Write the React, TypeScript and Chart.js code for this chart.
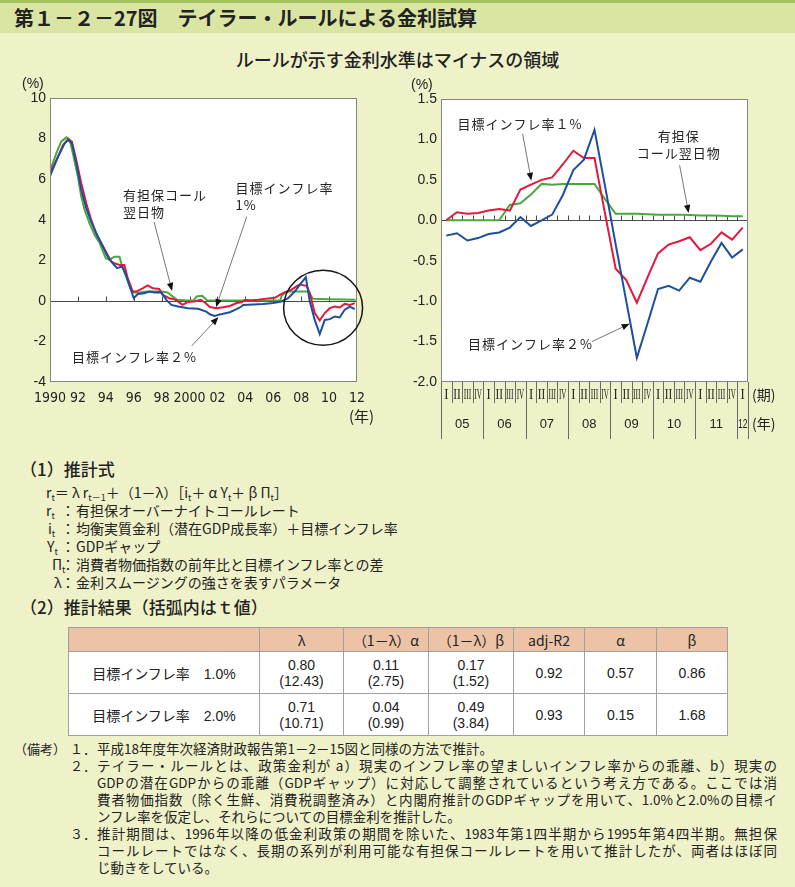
import React, { useEffect, useRef } from 'react';
import { Chart, registerables } from 'chart.js';

Chart.register(...registerables);

const NUM_FONT = "'Liberation Sans Narrow', 'DejaVu Sans Condensed', 'Liberation Sans', Arial, sans-serif";
const SANS_FONT = "'Liberation Sans', Arial, 'Noto Sans CJK JP', sans-serif";
const JP_FONT = "'Noto Sans CJK JP', 'Noto Sans', sans-serif";
const ROMAN_FONT = "'Liberation Serif', 'DejaVu Serif', serif";

const COLOR_CALL = '#48a83a';
const COLOR_T1 = '#e2183f';
const COLOR_T2 = '#1d4f9f';
const TEXT = '#222';
const BG = '#eff2c8';

// ---------------- Left chart (1990–2012) ----------------
const leftXTicks = [1990, 1992, 1994, 1996, 1998, 2000, 2002, 2004, 2006, 2008, 2010, 2012];

const callDates = [1990.0, 1990.45, 1990.8, 1991.17, 1991.4, 1991.64, 1992.0, 1992.24, 1992.48, 1992.83, 1993.2, 1993.55, 1993.8, 1994.0, 1994.26, 1994.6, 1994.98, 1995.14, 1995.45, 1995.76, 1996.0, 1996.5, 1997.0, 1997.5, 1997.95, 1998.43, 1998.8, 1999.1, 1999.86, 2000.3, 2000.5, 2000.9, 2001.1, 2001.25, 2003.0, 2006.5, 2006.6, 2006.95, 2008.5, 2008.85, 2010.0, 2011.0, 2011.9];
const callValues = [6.4, 7.27, 7.85, 8.06, 7.96, 7.27, 6.12, 5.14, 4.48, 3.83, 3.25, 2.87, 2.43, 2.1, 2.02, 2.18, 2.18, 1.77, 1.2, 0.62, 0.41, 0.43, 0.46, 0.46, 0.46, 0.41, 0.21, 0.05, 0.02, 0.03, 0.22, 0.25, 0.13, 0.03, 0.02, 0.03, 0.25, 0.46, 0.46, 0.1, 0.08, 0.07, 0.05];

const t1Dates = [1990.0, 1990.57, 1990.93, 1991.29, 1991.57, 1991.88, 1992.24, 1992.6, 1992.95, 1993.3, 1993.67, 1994.0, 1994.38, 1994.6, 1994.98, 1995.33, 1995.57, 1995.93, 1996.17, 1996.64, 1997.0, 1997.36, 1997.83, 1998.07, 1998.55, 1999.0, 1999.5, 1999.86, 2000.33, 2000.8, 2001.1, 2001.46, 2001.93, 2002.41, 2002.89, 2003.37, 2003.72, 2004.0, 2004.32, 2004.92, 2005.51, 2006.11, 2006.47, 2006.83, 2007.18, 2007.66, 2007.9, 2008.38, 2008.62, 2008.97, 2009.33, 2009.69, 2010.05, 2010.41, 2010.76, 2011.12, 2011.48, 2011.84];
const t1Values = [6.3, 7.1, 7.68, 7.96, 7.85, 6.95, 5.8, 4.81, 3.99, 3.33, 2.84, 2.43, 1.94, 1.86, 1.77, 1.77, 1.12, 0.46, 0.46, 0.62, 0.76, 0.62, 0.59, 0.3, 0.13, 0.05, -0.2, -0.06, -0.03, 0.05, -0.08, -0.3, -0.36, -0.31, -0.25, -0.11, -0.07, 0.05, 0.02, 0.05, 0.11, 0.15, 0.3, 0.43, 0.49, 0.71, 0.8, 0.74, 0.38, -0.6, -0.97, -0.6, -0.36, -0.28, -0.33, -0.15, -0.2, -0.11];

const t2Dates = [1990.0, 1990.57, 1991.05, 1991.29, 1991.57, 1991.88, 1992.24, 1992.6, 1992.95, 1993.43, 1993.79, 1994.1, 1994.45, 1994.81, 1995.17, 1995.4, 1995.76, 1996.0, 1996.29, 1996.76, 1997.12, 1997.48, 1997.95, 1998.34, 1998.7, 1999.18, 1999.89, 2000.61, 2001.2, 2001.46, 2001.8, 2002.1, 2002.41, 2002.89, 2003.37, 2003.72, 2003.84, 2004.56, 2005.27, 2005.99, 2006.59, 2007.06, 2007.54, 2007.9, 2008.33, 2008.62, 2008.97, 2009.33, 2009.69, 2010.05, 2010.41, 2010.76, 2011.12, 2011.48, 2011.84];
const t2Values = [6.15, 7.1, 7.77, 7.93, 7.77, 6.78, 5.47, 4.56, 3.91, 3.17, 2.68, 2.22, 1.89, 1.61, 1.69, 1.36, 0.62, 0.13, 0.34, 0.38, 0.46, 0.41, 0.43, 0.05, -0.2, -0.28, -0.36, -0.39, -0.53, -0.66, -0.74, -0.68, -0.64, -0.56, -0.41, -0.28, -0.2, -0.18, -0.15, -0.1, -0.03, 0.13, 0.46, 0.79, 1.17, -0.03, -0.94, -1.64, -0.94, -0.9, -0.77, -0.82, -0.44, -0.28, -0.41];

// ---------------- Right chart (2005Q1–2012Q1) ----------------
const quarterLabels = ['2005Q1', '2005Q2', '2005Q3', '2005Q4', '2006Q1', '2006Q2', '2006Q3', '2006Q4', '2007Q1', '2007Q2', '2007Q3', '2007Q4', '2008Q1', '2008Q2', '2008Q3', '2008Q4', '2009Q1', '2009Q2', '2009Q3', '2009Q4', '2010Q1', '2010Q2', '2010Q3', '2010Q4', '2011Q1', '2011Q2', '2011Q3', '2011Q4', '2012Q1'];
const quarterRoman = ['I', 'II', 'III', 'IV'];
const yearLabels = ['05', '06', '07', '08', '09', '10', '11', '12'];
const rightCall = [0, 0, 0, 0, 0, 0, 0.19, 0.21, 0.32, 0.45, 0.44, 0.45, 0.45, 0.45, 0.45, 0.26, 0.08, 0.08, 0.08, 0.075, 0.07, 0.07, 0.07, 0.065, 0.06, 0.06, 0.055, 0.05, 0.05];
const rightT1 = [0.0, 0.1, 0.08, 0.09, 0.12, 0.14, 0.12, 0.38, 0.44, 0.5, 0.53, 0.69, 0.86, 0.77, 0.77, 0.08, -0.6, -0.74, -1.02, -0.71, -0.41, -0.3, -0.26, -0.21, -0.37, -0.29, -0.15, -0.24, -0.09];
const rightT2 = [-0.19, -0.16, -0.25, -0.22, -0.17, -0.15, -0.09, 0.04, -0.07, 0.0, 0.07, 0.31, 0.62, 0.75, 1.12, 0.42, -0.3, -1.0, -1.7, -1.28, -0.85, -0.81, -0.87, -0.71, -0.76, -0.51, -0.28, -0.46, -0.36];

// ---------------- Annotations (in data coordinates) ----------------
const leftNotes = [
  { lines: ['有担保コール', '翌日物'], x: 1995.23, y: 5.22, align: 'left' },
  { lines: ['目標インフレ率', '1%'], x: 2003.3, y: 5.57, align: 'left' },
  { lines: ['目標インフレ率２%'], x: 1991.58, y: -2.78, align: 'left' },
];
const leftArrows = [
  [1997.46, 3.89, 1998.75, 0.49],
  [2004.1, 4.15, 2001.9, -0.31],
  [2000.16, -2.22, 2002.07, -0.8],
];
const leftCircle = { x: 2009.57, y: -0.34, rx: 2.83, ry: 1.85 };

const rightNotes = [
  { lines: ['目標インフレ率１%'], x: 1.07, y: 1.19, align: 'left' },
  { lines: ['有担保', 'コール翌日物'], x: 21.95, y: 1.04, align: 'center' },
  { lines: ['目標インフレ率２%'], x: 2.05, y: -1.53, align: 'left' },
];
const rightArrows = [
  [7.21, 1.07, 8.03, 0.49],
  [22.04, 0.68, 22.89, 0.09],
  [13.76, -1.5, 17.32, -1.28],
];

// ---------------- Table ----------------
const tableColumns = ['', 'λ', '（1－λ）α', '（1－λ）β', 'adj-R2', 'α', 'β'];
const tableColWidths = [191, 84, 85, 85, 71, 72, 71];
const tableRowLabels = ['目標インフレ率　1.0%', '目標インフレ率　2.0%'];
const lambdaEst = ['0.80', '0.71'];
const lambdaT = ['(12.43)', '(10.71)'];
const alphaCoef = ['0.11', '0.04'];
const alphaCoefT = ['(2.75)', '(0.99)'];
const betaCoef = ['0.17', '0.49'];
const betaCoefT = ['(1.52)', '(3.84)'];
const adjR2 = ['0.92', '0.93'];
const alphaVals = ['0.57', '0.15'];
const betaVals = ['0.86', '1.68'];

// ---------------- Notes ----------------
const noteLines = [
  { num: '１．', text: '平成18年度年次経済財政報告第1－2－15図と同様の方法で推計。', full: false },
  { num: '２．', text: 'テイラー・ルールとは、政策金利が a）現実のインフレ率の望ましいインフレ率からの乖離、b）現実の', full: true },
  { num: '', text: 'GDPの潜在GDPからの乖離（GDPギャップ）に対応して調整されているという考え方である。ここでは消', full: true },
  { num: '', text: '費者物価指数（除く生鮮、消費税調整済み）と内閣府推計のGDPギャップを用いて、1.0%と2.0%の目標イ', full: true },
  { num: '', text: 'ンフレ率を仮定し、それらについての目標金利を推計した。', full: false },
  { num: '３．', text: '推計期間は、1996年以降の低金利政策の期間を除いた、1983年第1四半期から1995年第4四半期。無担保', full: true },
  { num: '', text: 'コールレートではなく、長期の系列が利用可能な有担保コールレートを用いて推計したが、両者はほぼ同', full: true },
  { num: '', text: 'じ動きをしている。', full: false },
];

function drawArrow(ctx: CanvasRenderingContext2D, x1: number, y1: number, x2: number, y2: number) {
  const ang = Math.atan2(y2 - y1, x2 - x1);
  const head = 8;
  const hw = 3.2;
  const bx = x2 - head * Math.cos(ang);
  const by = y2 - head * Math.sin(ang);
  ctx.save();
  ctx.strokeStyle = '#666';
  ctx.lineWidth = 0.9;
  ctx.beginPath();
  ctx.moveTo(x1, y1);
  ctx.lineTo(bx, by);
  ctx.stroke();
  ctx.fillStyle = '#111';
  ctx.beginPath();
  ctx.moveTo(x2, y2);
  ctx.lineTo(bx + hw * Math.sin(ang), by - hw * Math.cos(ang));
  ctx.lineTo(bx - hw * Math.sin(ang), by + hw * Math.cos(ang));
  ctx.closePath();
  ctx.fill();
  ctx.restore();
}

function drawNotes(chart: any, notes: any[], arrows: number[][]) {
  const { ctx, scales } = chart;
  ctx.save();
  ctx.font = `13px ${JP_FONT}`;
  (ctx as any).letterSpacing = '1px';
  ctx.fillStyle = TEXT;
  ctx.textBaseline = 'middle';
  for (const n of notes) {
    ctx.textAlign = n.align;
    const px = scales.x.getPixelForValue(n.x);
    const py = scales.y.getPixelForValue(n.y);
    n.lines.forEach((l: string, i: number) => ctx.fillText(l, px, py + i * 17));
  }
  ctx.restore();
  for (const a of arrows) {
    drawArrow(
      ctx,
      scales.x.getPixelForValue(a[0]),
      scales.y.getPixelForValue(a[1]),
      scales.x.getPixelForValue(a[2]),
      scales.y.getPixelForValue(a[3])
    );
  }
}

function fillPlot(chart: any) {
  const { ctx, chartArea: a } = chart;
  ctx.save();
  ctx.fillStyle = '#ffffff';
  ctx.fillRect(a.left, a.top, a.right - a.left, a.bottom - a.top);
  ctx.restore();
}

function strokeFrame(chart: any) {
  const { ctx, chartArea: a } = chart;
  ctx.save();
  ctx.strokeStyle = '#858585';
  ctx.lineWidth = 1;
  const l = Math.round(a.left) + 0.5;
  const t = Math.round(a.top) + 0.5;
  const r = Math.round(a.right) - 0.5;
  const b = Math.round(a.bottom) - 0.5;
  ctx.strokeRect(l, t, r - l, b - t);
  ctx.restore();
}

const leftDecor = {
  id: 'leftDecor',
  beforeDraw(chart: any) {
    fillPlot(chart);
  },
  beforeDatasetsDraw(chart: any) {
    const { ctx, chartArea: a, scales } = chart;
    const y0 = Math.round(scales.y.getPixelForValue(0)) + 0.5;
    ctx.save();
    ctx.strokeStyle = '#4a4a4a';
    ctx.lineWidth = 1;
    ctx.beginPath();
    ctx.moveTo(a.left, y0);
    ctx.lineTo(a.right, y0);
    for (const v of leftXTicks) {
      if (v <= 1990 || v >= 2012) continue;
      const px = Math.round(scales.x.getPixelForValue(v)) + 0.5;
      ctx.moveTo(px, y0);
      ctx.lineTo(px, y0 - 5);
    }
    ctx.stroke();
    ctx.restore();
  },
  afterDraw(chart: any) {
    strokeFrame(chart);
    drawNotes(chart, leftNotes, leftArrows);
    const { ctx, scales } = chart;
    const cx = scales.x.getPixelForValue(leftCircle.x);
    const cy = scales.y.getPixelForValue(leftCircle.y);
    const rx = scales.x.getPixelForValue(leftCircle.x + leftCircle.rx) - cx;
    const ry = cy - scales.y.getPixelForValue(leftCircle.y + leftCircle.ry);
    ctx.save();
    ctx.strokeStyle = '#151515';
    ctx.lineWidth = 1.5;
    ctx.beginPath();
    ctx.ellipse(cx, cy, rx, ry, 0, 0, Math.PI * 2);
    ctx.stroke();
    ctx.restore();
  },
};

const rightDecor = {
  id: 'rightDecor',
  beforeDraw(chart: any) {
    fillPlot(chart);
  },
  beforeDatasetsDraw(chart: any) {
    const { ctx, chartArea: a, scales } = chart;
    const x = scales.x;
    const y0 = Math.round(scales.y.getPixelForValue(0)) + 0.5;
    const half = (x.getPixelForValue(1) - x.getPixelForValue(0)) / 2;
    ctx.save();
    ctx.strokeStyle = '#4a4a4a';
    ctx.lineWidth = 1;
    ctx.beginPath();
    ctx.moveTo(a.left, y0);
    ctx.lineTo(a.right, y0);
    for (let i = 1; i < quarterLabels.length; i++) {
      const px = Math.round(x.getPixelForValue(i) - half) + 0.5;
      ctx.moveTo(px, y0);
      ctx.lineTo(px, y0 - 5);
    }
    ctx.stroke();
    ctx.restore();
  },
  afterDraw(chart: any) {
    strokeFrame(chart);
    const { ctx, chartArea: a, scales } = chart;
    const x = scales.x;
    const n = quarterLabels.length;
    const half = (x.getPixelForValue(1) - x.getPixelForValue(0)) / 2;
    const bound = (i: number) => (i < n ? x.getPixelForValue(i) - half : x.getPixelForValue(n - 1) + half);
    ctx.save();
    ctx.strokeStyle = '#6a6a6a';
    ctx.lineWidth = 1;
    ctx.beginPath();
    for (let i = 0; i <= n; i++) {
      const px = Math.round(bound(i)) + 0.5;
      const isYear = i % 4 === 0 || i === n;
      ctx.moveTo(px, a.bottom);
      ctx.lineTo(px, a.bottom + (isYear ? 57 : 21));
    }
    ctx.stroke();
    ctx.fillStyle = TEXT;
    ctx.textAlign = 'center';
    ctx.textBaseline = 'middle';
    ctx.font = `14px ${ROMAN_FONT}`;
    for (let i = 0; i < n; i++) {
      const label = quarterRoman[i % 4];
      const w = ctx.measureText(label).width;
      const s = Math.min(0.9, 7.5 / w);
      ctx.save();
      ctx.translate(x.getPixelForValue(i), a.bottom + 13);
      ctx.scale(s, 1);
      ctx.fillText(label, 0, 0);
      ctx.restore();
    }
    ctx.font = `13px ${SANS_FONT}`;
    for (let k = 0; k < yearLabels.length; k++) {
      const s0 = bound(k * 4);
      const s1 = bound(Math.min(k * 4 + 4, n));
      const w = ctx.measureText(yearLabels[k]).width;
      const sc = Math.min(1, (s1 - s0 - 1) / w);
      ctx.save();
      ctx.translate((s0 + s1) / 2, a.bottom + 42);
      ctx.scale(sc, 1);
      ctx.fillText(yearLabels[k], 0, 0);
      ctx.restore();
    }
    ctx.textAlign = 'left';
    ctx.font = `14px ${JP_FONT}`;
    ctx.fillText('(期)', a.right + 4, a.bottom + 13);
    ctx.fillText('(年)', a.right + 4, a.bottom + 42);
    ctx.restore();
    drawNotes(chart, rightNotes, rightArrows);
  },
};

function lineDataset(label: string, data: any[], color: string, order: number) {
  return {
    label,
    data,
    borderColor: color,
    backgroundColor: color,
    borderWidth: 2,
    pointRadius: 0,
    tension: 0,
    fill: false,
    order,
  };
}

function leftConfig(): any {
  const pts = (xs: number[], ys: number[]) => xs.map((v, i) => ({ x: v, y: ys[i] }));
  return {
    type: 'line',
    data: {
      datasets: [
        lineDataset('目標インフレ率２%', pts(t2Dates, t2Values), COLOR_T2, 1),
        lineDataset('目標インフレ率１%', pts(t1Dates, t1Values), COLOR_T1, 2),
        lineDataset('有担保コール翌日物', pts(callDates, callValues), COLOR_CALL, 3),
      ],
    },
    options: {
      responsive: false,
      animation: false,
      events: [],
      layout: { padding: { left: 0, right: 33, top: 28, bottom: 0 } },
      plugins: { legend: { display: false }, tooltip: { enabled: false } },
      scales: {
        x: {
          type: 'linear',
          min: 1990,
          max: 2012,
          afterBuildTicks: (s: any) => {
            s.ticks = leftXTicks.map((v) => ({ value: v }));
          },
          afterFit: (s: any) => {
            s.height = 48;
          },
          grid: { display: false, drawTicks: false },
          border: { display: false },
          ticks: {
            padding: 8,
            maxRotation: 0,
            autoSkip: false,
            color: TEXT,
            font: { family: NUM_FONT, size: 14 },
            callback: (v: any) => (v === 1990 || v === 2000 ? String(v) : String(v % 100).padStart(2, '0')),
          },
        },
        y: {
          min: -4,
          max: 10,
          afterFit: (s: any) => {
            s.width = 50;
          },
          grid: { display: false, drawTicks: false },
          border: { display: false },
          ticks: { stepSize: 2, padding: 4, color: TEXT, font: { family: SANS_FONT, size: 14 } },
        },
      },
    },
    plugins: [leftDecor],
  };
}

function rightConfig(): any {
  return {
    type: 'line',
    data: {
      labels: quarterLabels,
      datasets: [
        lineDataset('目標インフレ率２%', rightT2, COLOR_T2, 1),
        lineDataset('目標インフレ率１%', rightT1, COLOR_T1, 2),
        lineDataset('有担保コール翌日物', rightCall, COLOR_CALL, 3),
      ],
    },
    options: {
      responsive: false,
      animation: false,
      events: [],
      layout: { padding: { left: 0, right: 47, top: 29, bottom: 0 } },
      plugins: { legend: { display: false }, tooltip: { enabled: false } },
      scales: {
        x: {
          type: 'category',
          offset: true,
          afterFit: (s: any) => {
            s.height = 68;
          },
          grid: { display: false, drawTicks: false },
          border: { display: false },
          ticks: { display: false },
        },
        y: {
          min: -2,
          max: 1.5,
          afterFit: (s: any) => {
            s.width = 51;
          },
          grid: { display: false, drawTicks: false },
          border: { display: false },
          ticks: {
            stepSize: 0.5,
            padding: 4,
            color: TEXT,
            font: { family: SANS_FONT, size: 14 },
            callback: (v: any) => Number(v).toFixed(1),
          },
        },
      },
    },
    plugins: [rightDecor],
  };
}

const abs = (style: React.CSSProperties): React.CSSProperties => ({ position: 'absolute', ...style });

const NOTE_TOP = 739.5;
const NOTE_PITCH = 17;

export default function App() {
  const leftRef = useRef<HTMLCanvasElement>(null);
  const rightRef = useRef<HTMLCanvasElement>(null);

  useEffect(() => {
    const lc = new Chart(leftRef.current as HTMLCanvasElement, leftConfig());
    const rc = new Chart(rightRef.current as HTMLCanvasElement, rightConfig());
    return () => {
      lc.destroy();
      rc.destroy();
    };
  }, []);

  const sub: React.CSSProperties = { fontSize: 9, verticalAlign: -3, lineHeight: 0 };
  const formulaLine = (top: number, left: number, label: React.ReactNode, text: string) => (
    <div style={abs({ top, left: 0, height: 17, lineHeight: '17px', fontSize: 14, whiteSpace: 'nowrap' })}>
      <span style={abs({ left, top: 0 })}>{label}</span>
      <span style={abs({ left: 61, top: 0 })}>：</span>
      <span style={abs({ left: 76, top: 0 })}>{text}</span>
    </div>
  );

  const cell: React.CSSProperties = {
    border: '1px solid #a0a0a0',
    textAlign: 'center',
    verticalAlign: 'middle',
    padding: 0,
  };

  return (
    <div style={{ position: 'relative', width: 795, height: 887, background: BG, overflow: 'hidden', fontFamily: JP_FONT, color: TEXT }}>
      <style>{'body{margin:0;}'}</style>
      <div style={abs({ left: 0, top: 0, width: 795, height: 3, background: '#a3c45e' })} />
      <div style={abs({ left: 0, top: 3, width: 795, height: 30, background: '#dbe5a3' })} />
      <div style={abs({ left: 14, top: 3, height: 30, lineHeight: '30px', fontSize: 20, fontWeight: 700, whiteSpace: 'nowrap' })}>
        第１－２－27図　テイラー・ルールによる金利試算
      </div>
      <div style={abs({ left: 0, top: 47, width: 795, textAlign: 'center', fontSize: 18, lineHeight: '24px', fontWeight: 500, whiteSpace: 'nowrap' })}>
        ルールが示す金利水準はマイナスの領域
      </div>

      <canvas ref={leftRef} width={390} height={360} style={abs({ left: 0, top: 70, width: 390, height: 360 })} />
      <canvas ref={rightRef} width={405} height={380} style={abs({ left: 390, top: 70, width: 405, height: 380 })} />

      <div style={abs({ left: 22, top: 74, fontSize: 14, fontFamily: SANS_FONT, lineHeight: '18px' })}>(%)</div>
      <div style={abs({ left: 411, top: 75, fontSize: 14, fontFamily: SANS_FONT, lineHeight: '18px' })}>(%)</div>
      <div style={abs({ left: 349, top: 406, fontSize: 15, lineHeight: '20px' })}>(年)</div>

      <div style={abs({ left: 20, top: 457, fontSize: 17, lineHeight: '24px', fontWeight: 500, whiteSpace: 'nowrap' })}>（1）推計式</div>
      <div style={abs({ left: 46, top: 484, height: 17, lineHeight: '17px', fontSize: 14, whiteSpace: 'nowrap' })}>
        r<sub style={sub}>t</sub>＝ λ r<sub style={sub}>t－1</sub>＋（1－λ）［i<sub style={sub}>t</sub>＋ α Y<sub style={sub}>t</sub>＋ β Π<sub style={sub}>t</sub>］
      </div>
      {formulaLine(502, 46, <>r<sub style={sub}>t</sub></>, '有担保オーバーナイトコールレート')}
      {formulaLine(520, 48, <>i<sub style={sub}>t</sub></>, '均衡実質金利（潜在GDP成長率）＋目標インフレ率')}
      {formulaLine(538, 47, <>Y<sub style={sub}>t</sub></>, 'GDPギャップ')}
      {formulaLine(556, 52, <>Π<sub style={sub}>t</sub></>, '消費者物価指数の前年比と目標インフレ率との差')}
      {formulaLine(574, 54, <>λ</>, '金利スムージングの強さを表すパラメータ')}
      <div style={abs({ left: 20, top: 595, fontSize: 17, lineHeight: '24px', fontWeight: 500, whiteSpace: 'nowrap' })}>（2）推計結果（括弧内はｔ値）</div>

      <table
        style={abs({
          left: 68,
          top: 627,
          width: 659,
          borderCollapse: 'collapse',
          tableLayout: 'fixed',
          fontFamily: SANS_FONT,
          fontSize: 14,
          background: '#ffffff',
          color: TEXT,
        })}
      >
        <colgroup>
          {tableColWidths.map((w, i) => (
            <col key={i} style={{ width: w }} />
          ))}
        </colgroup>
        <thead>
          <tr style={{ height: 24, background: '#ecc3a7' }}>
            {tableColumns.map((c, i) => (
              <th key={i} style={{ ...cell, fontWeight: 400, fontFamily: JP_FONT, fontSize: 14, lineHeight: '16px' }}>
                {c}
              </th>
            ))}
          </tr>
        </thead>
        <tbody>
          {tableRowLabels.map((lab, r) => (
            <tr key={r} style={{ height: 42 }}>
              <td style={{ ...cell, whiteSpace: 'pre' }}>{lab}</td>
              <td style={{ ...cell, lineHeight: '16px' }}>
                {lambdaEst[r]}
                <br />
                {lambdaT[r]}
              </td>
              <td style={{ ...cell, lineHeight: '16px' }}>
                {alphaCoef[r]}
                <br />
                {alphaCoefT[r]}
              </td>
              <td style={{ ...cell, lineHeight: '16px' }}>
                {betaCoef[r]}
                <br />
                {betaCoefT[r]}
              </td>
              <td style={cell}>{adjR2[r]}</td>
              <td style={cell}>{alphaVals[r]}</td>
              <td style={cell}>{betaVals[r]}</td>
            </tr>
          ))}
        </tbody>
      </table>

      <div style={abs({ left: 14, top: NOTE_TOP, fontSize: 13, lineHeight: `${NOTE_PITCH}px`, whiteSpace: 'nowrap' })}>（備考）</div>
      {noteLines.map((ln, i) => (
        <React.Fragment key={i}>
          {ln.num ? (
            <div style={abs({ left: 70, top: NOTE_TOP + i * NOTE_PITCH, fontSize: 13, lineHeight: `${NOTE_PITCH}px`, whiteSpace: 'nowrap' })}>{ln.num}</div>
          ) : null}
          <div
            style={abs({
              left: 97,
              top: NOTE_TOP + i * NOTE_PITCH,
              width: 680,
              fontSize: 13.5,
              lineHeight: `${NOTE_PITCH}px`,
              whiteSpace: 'nowrap',
              textAlign: ln.full ? 'justify' : 'left',
              textAlignLast: ln.full ? 'justify' : 'left',
            } as React.CSSProperties)}
          >
            {ln.text}
          </div>
        </React.Fragment>
      ))}
    </div>
  );
}
